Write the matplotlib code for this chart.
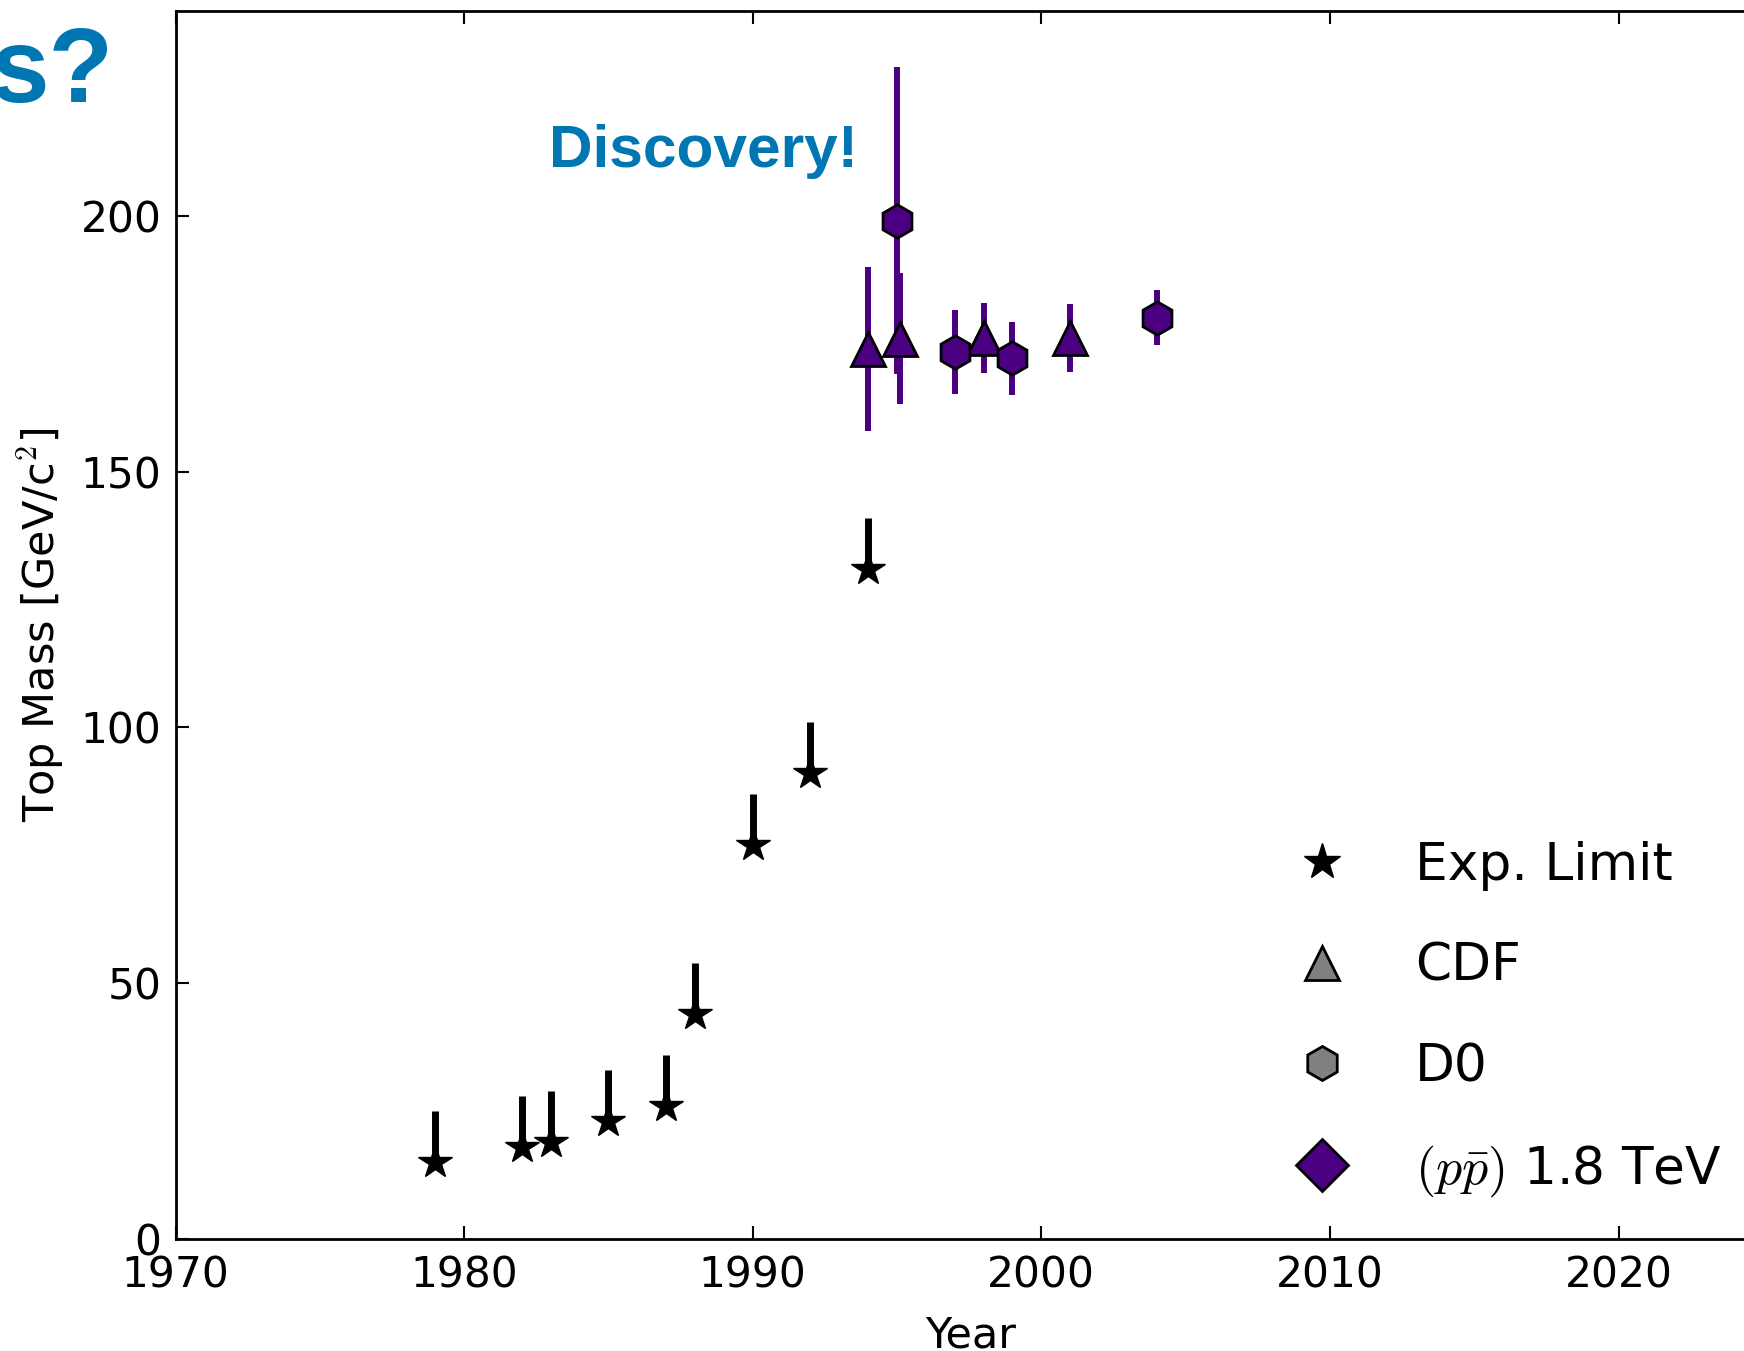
import numpy as np
import matplotlib
matplotlib.use("Agg")
import matplotlib.pyplot as plt
from matplotlib.lines import Line2D

plt.rcParams['mathtext.fontset'] = 'cm'
plt.rcParams['font.family'] = 'DejaVu Sans'

# Experimental lower limits on the top mass (GeV/c^2)
limit_years = [1979, 1982, 1983, 1985, 1987, 1988, 1990, 1992, 1994]
limit_mass = [15, 18, 19, 23, 26, 44, 77, 91, 131]
limit_up = [10, 10, 10, 10, 10, 10, 10, 10, 10]
limit_down = [0, 0, 0, 0, 0, 0, 0, 0, 0]

# CDF measurements
cdf_years = [1994, 1995.1, 1998, 2001]
cdf_mass = [174, 176, 176.1, 176.1]
cdf_err = [16, 12.8, 6.8, 6.6]

# D0 measurements
d0_years = [1995, 1997, 1999, 2004]
d0_mass = [199, 173.3, 172.1, 180.1]
d0_err = [30, 8.2, 7.1, 5.3]

purple = '#4B0082'
blue = '#0076B2'

fig = plt.figure(figsize=(17.44, 13.51), dpi=100)
ax = fig.add_axes([175.5 / 1744, 112 / 1351, 1587.3 / 1744, 1227.9 / 1351])

ax.errorbar(limit_years, limit_mass, yerr=[limit_down, limit_up], fmt='*',
            color='k', ms=25, elinewidth=5, capsize=0)
ax.errorbar(cdf_years, cdf_mass, yerr=cdf_err, fmt='^', color=purple,
            mfc=purple, mec='k', mew=2, ms=24, elinewidth=4.3, capsize=0)
ax.errorbar(d0_years, d0_mass, yerr=d0_err, fmt='h', color=purple,
            mfc=purple, mec='k', mew=2, ms=24, elinewidth=4.3, capsize=0)

ax.set_xlim(1970, 2025)
ax.set_ylim(0, 240)
ax.set_xticks([1970, 1980, 1990, 2000, 2010, 2020])
ax.set_yticks([0, 50, 100, 150, 200])
ax.tick_params(direction='in', top=True, right=True, length=9.5, width=1.5,
               labelsize=30.5)
ax.tick_params(axis='x', pad=11)
ax.tick_params(axis='y', pad=10)
for sp in ax.spines.values():
    sp.set_linewidth(2)

ax.set_xlabel('Year', fontsize=31)
ax.xaxis.set_label_coords(0.501, -0.0611)
ax.set_ylabel(r'Top Mass [GeV/c$^2$]', fontsize=31, labelpad=9.5)

ax.text(1982.93, 209.5, 'Discovery!', fontsize=43.5, fontweight='bold',
        color=blue, family='Liberation Sans', va='baseline')
fig.text(-0.0053, 0.9245, 's?', fontsize=76, fontweight='bold',
         color=blue, family='Liberation Sans', va='baseline')

# legend proxies: grey shapes for the experiments, purple diamond for the beam
handles = [
    Line2D([], [], ls='none', marker='*', color='k', ms=27),
    Line2D([], [], ls='none', marker='^', mfc='grey', mec='k', mew=2, ms=24.5),
    Line2D([], [], ls='none', marker='h', mfc='grey', mec='k', mew=2, ms=24.5),
    Line2D([], [], ls='none', marker='D', mfc=purple, mec='k', mew=2, ms=26),
]
labels = ['Exp. Limit', 'CDF', 'D0', r'$(p\bar{p})$ 1.8 TeV']
ax.legend(handles, labels, loc='lower left', bbox_to_anchor=(0.660, -0.0053),
          frameon=False, fontsize=37.3, labelspacing=0.98, numpoints=1,
          handletextpad=0.8, borderpad=0.4)

fig.savefig('out.png', dpi=100)
